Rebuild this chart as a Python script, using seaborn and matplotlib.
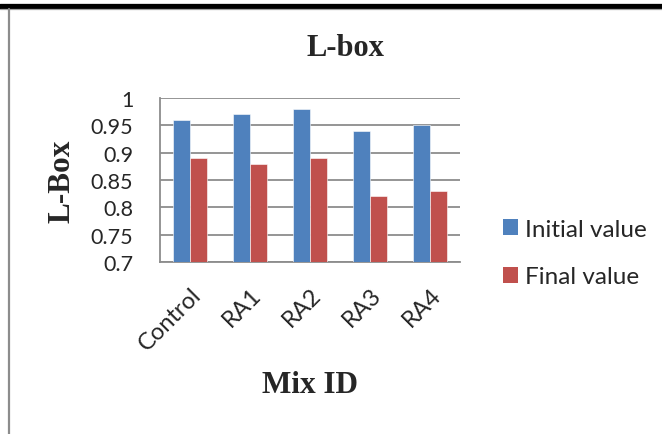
import matplotlib
matplotlib.use("Agg")
import matplotlib.pyplot as plt
from matplotlib.lines import Line2D
from matplotlib.patches import Patch
import seaborn as sns
import pandas as pd

mixes = ["Control", "RA1", "RA2", "RA3", "RA4"]
initial_value = [0.96, 0.97, 0.98, 0.94, 0.95]
final_value = [0.89, 0.88, 0.89, 0.82, 0.83]
series_names = ["Initial value", "Final value"]
y_ticks = [0.7, 0.75, 0.8, 0.85, 0.9, 0.95, 1.0]
y_tick_labels = ["0.7", "0.75", "0.8", "0.85", "0.9", "0.95", "1"]
colors = ["#4F81BD", "#C0504D"]

df = pd.DataFrame({
    "Mix": mixes * 2,
    "Series": [series_names[0]] * len(mixes) + [series_names[1]] * len(mixes),
    "Value": initial_value + final_value,
})

sns.set_style("white")
plt.rcParams["font.family"] = ["Lato", "DejaVu Sans"]

W, H = 662, 435
fig = plt.figure(figsize=(W / 100, H / 100), dpi=100)
ax = fig.add_axes([160 / W, 1 - 263 / H, 300 / W, 164 / H])

sns.barplot(data=df, x="Mix", y="Value", hue="Series", palette=colors,
            saturation=1, width=0.57, ax=ax, legend=False,
            edgecolor="white", linewidth=0.4, zorder=3)

ax.set_ylim(0.7, 1.0)
ax.set_xlim(-0.5, len(mixes) - 0.5)
ax.set_yticks(y_ticks)
ax.set_yticklabels(y_tick_labels, fontsize=15.5)
ax.yaxis.grid(True, color="#8c8c8c", linewidth=1.3, zorder=0)
ax.set_axisbelow(True)

# category labels at centres, tick marks at category boundaries
ax.set_xticks(range(len(mixes)))
ax.set_xticklabels(mixes, fontsize=17, rotation=45, ha="right",
                   rotation_mode="anchor")
ax.set_xticks([i - 0.5 for i in range(len(mixes) + 1)], minor=True)
ax.tick_params(axis="x", which="major", length=0, pad=15.5)
ax.tick_params(axis="x", which="minor", length=5.8, width=1.3, color="#8c8c8c")
ax.tick_params(axis="y", which="major", length=5.8, width=1.3, color="#8c8c8c",
               pad=13.5)

for side in ["top", "right"]:
    ax.spines[side].set_visible(False)
for side in ["left", "bottom"]:
    ax.spines[side].set_color("#8c8c8c")
    ax.spines[side].set_linewidth(1.3)

ax.set_xlabel("")
ax.set_ylabel("")

serif = ["Liberation Serif", "DejaVu Serif"]
fig.text(345 / W, 1 - 48 / H, "L-box", fontsize=22, fontweight="bold",
         family=serif, ha="center", va="center")
fig.text(62 / W, 1 - 181 / H, "L-Box", fontsize=22.5, fontweight="bold",
         family=serif, ha="center", va="center", rotation=90)
fig.text(310 / W, 1 - 386 / H, "Mix ID", fontsize=22.5, fontweight="bold",
         family=serif, ha="center", va="center")

handles = [Patch(facecolor=c, edgecolor="none") for c in colors]
fig.legend(handles, series_names, loc="center left",
           bbox_to_anchor=(503 / W, 1 - 254 / H), frameon=False,
           fontsize=17.5, handlelength=0.62, handleheight=0.62,
           handletextpad=0.3, labelspacing=1.1, borderpad=0,
           borderaxespad=0)

# page rules around the chart
fig.add_artist(Line2D([0, 1], [1 - 6.5 / H, 1 - 6.5 / H], color="black",
                      linewidth=3.8, transform=fig.transFigure))
fig.add_artist(Line2D([0, 1], [1 - 9.8 / H, 1 - 9.8 / H], color="#a0a0a0",
                      linewidth=0.9, transform=fig.transFigure))
fig.add_artist(Line2D([9 / W, 9 / W], [0, 1 - 9.5 / H], color="#8c8c8c",
                      linewidth=1.6, transform=fig.transFigure))

fig.savefig("out.png", dpi=100)
